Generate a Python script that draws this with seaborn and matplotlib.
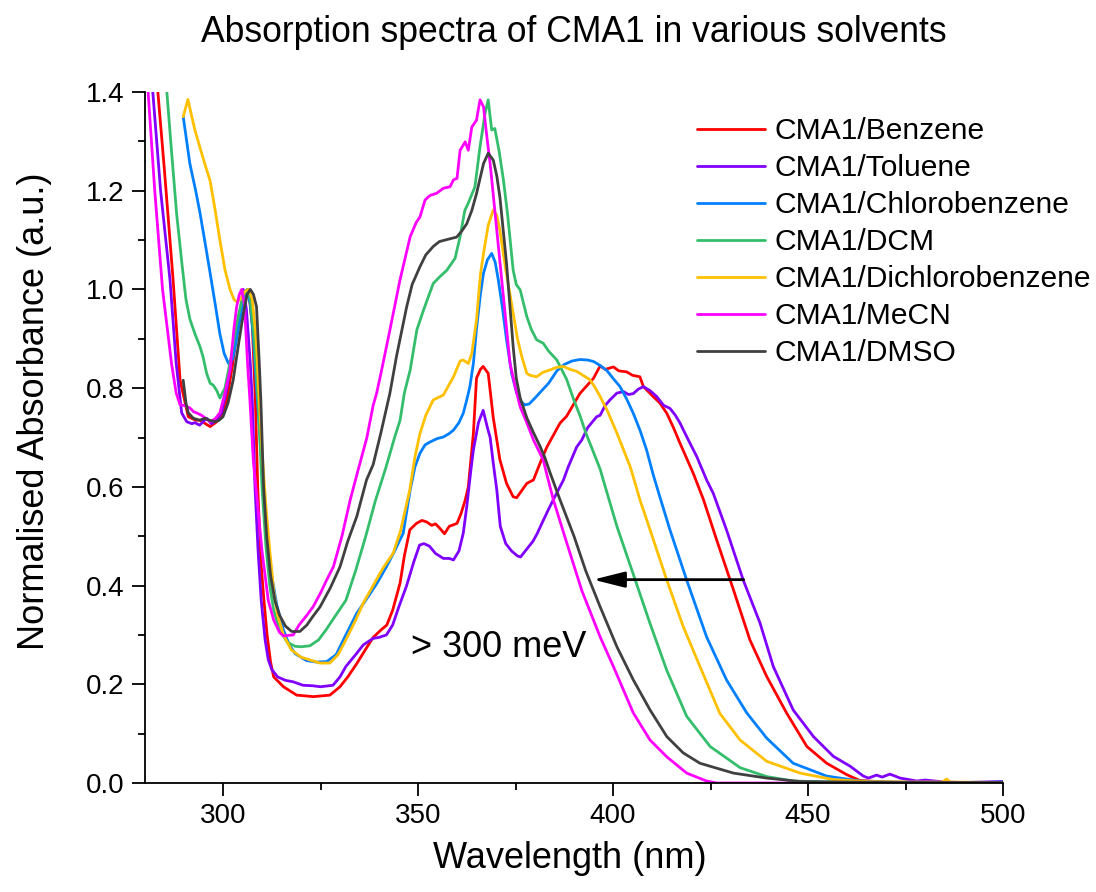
import numpy as np
import pandas as pd
import matplotlib
matplotlib.use("Agg")
import matplotlib.pyplot as plt
import seaborn as sns
from matplotlib.ticker import MultipleLocator, FormatStrFormatter

# Normalised absorption spectra, (wavelength nm, absorbance) pairs per solvent
benzene = [
    (280, 1.52), (283.3, 1.40), (285, 1.24), (287.2, 1.02), (289, 0.816), (291.1, 0.742),
    (293, 0.735), (294.1, 0.735), (296.7, 0.722), (298.4, 0.732), (300, 0.75), (301, 0.776),
    (302.5, 0.85), (303.5, 0.911), (305, 0.975), (306.5, 1.0), (307.5, 0.93), (308.3, 0.776),
    (308.9, 0.6), (309.7, 0.45), (310.5, 0.37), (311.3, 0.30), (312.2, 0.245), (313, 0.215),
    (315.5, 0.195), (318.9, 0.178), (323.2, 0.175), (327.4, 0.178), (330, 0.195), (332, 0.215),
    (334.3, 0.242), (336.5, 0.27), (338.5, 0.295), (340.5, 0.31), (342, 0.32), (343.5, 0.35),
    (345.4, 0.405), (346.5, 0.46), (347.9, 0.513), (349.6, 0.526), (351, 0.532), (352.2, 0.529),
    (353.5, 0.522), (354.5, 0.525), (355.6, 0.516), (356.8, 0.505), (358, 0.52), (360, 0.526),
    (361, 0.545), (362.1, 0.573), (362.9, 0.60), (364.2, 0.708), (365, 0.82), (366, 0.838),
    (366.7, 0.844), (368, 0.83), (369.3, 0.74), (371, 0.655), (372.7, 0.607), (374.4, 0.58),
    (375.3, 0.578), (377.9, 0.607), (379.6, 0.614), (381.3, 0.648), (383, 0.68), (386.4, 0.729),
    (388.1, 0.743), (391.5, 0.789), (392.4, 0.797), (395, 0.82), (396.7, 0.845), (398, 0.838),
    (400.1, 0.843), (401.5, 0.835), (403.5, 0.833), (405, 0.826), (406.9, 0.823), (407.8, 0.803),
    (410.3, 0.783), (412, 0.77), (413.8, 0.749), (415.5, 0.72), (417.2, 0.688), (420.6, 0.627),
    (423.2, 0.574), (426.6, 0.492), (430.9, 0.391), (435.1, 0.29), (439.4, 0.216), (444.5, 0.142),
    (449.7, 0.074), (454.8, 0.04), (459.9, 0.017), (463.3, 0.005), (470, 0.002), (480, 0.001),
    (490, 0.0), (500, 0.0),
]

toluene = [
    (280.5, 1.55), (282, 1.40), (284, 1.2), (286.4, 1.02), (288, 0.85), (289.4, 0.75),
    (290.7, 0.732), (292, 0.728), (292.8, 0.73), (294, 0.725), (295.8, 0.739), (297, 0.728),
    (297.9, 0.732), (299.6, 0.75), (301, 0.80), (302.5, 0.87), (304.4, 0.95), (305.2, 1.0),
    (306, 0.96), (307, 0.85), (307.5, 0.776), (308.2, 0.6), (309, 0.47), (309.8, 0.37),
    (310.8, 0.29), (311.6, 0.25), (312.5, 0.23), (314, 0.215), (316, 0.208), (318, 0.205),
    (320.5, 0.198), (323, 0.197), (325, 0.195), (328.2, 0.198), (330, 0.215), (331.5, 0.236),
    (334, 0.26), (336, 0.28), (338.5, 0.293), (340, 0.295), (341.9, 0.30), (343.5, 0.32),
    (345, 0.355), (347, 0.398), (349, 0.45), (350.4, 0.482), (351.5, 0.485), (352.9, 0.48),
    (354.5, 0.465), (356.5, 0.455), (358, 0.455), (359.1, 0.452), (360.5, 0.47), (361.6, 0.506),
    (362.5, 0.56), (363.5, 0.63), (364.2, 0.675), (365.5, 0.73), (366.7, 0.755), (367.8, 0.72),
    (368.5, 0.70), (369.3, 0.648), (370.2, 0.594), (371.1, 0.52), (372.5, 0.485), (374, 0.47),
    (375.5, 0.46), (376.3, 0.458), (378, 0.475), (379.5, 0.49), (380.6, 0.506), (382, 0.53),
    (383.5, 0.555), (384.7, 0.574), (387.3, 0.614), (388.5, 0.64), (390.7, 0.681), (392, 0.695),
    (393.5, 0.72), (395.8, 0.742), (396.7, 0.745), (398, 0.765), (399.2, 0.776), (401, 0.79),
    (402.7, 0.793), (404, 0.787), (405.2, 0.789), (406.5, 0.798), (407.8, 0.803), (409.5, 0.795),
    (411.2, 0.783), (413, 0.765), (414.6, 0.759), (416, 0.745), (417.2, 0.729), (419, 0.70),
    (421.5, 0.661), (424, 0.614), (425.7, 0.587), (429.1, 0.513), (433.4, 0.411), (437.7, 0.324),
    (441.1, 0.236), (446.2, 0.148), (451.4, 0.094), (456.5, 0.054), (460.8, 0.034), (464.2, 0.014),
    (465.5, 0.010), (467.6, 0.016), (469, 0.012), (471, 0.018), (473.6, 0.010), (477.9, 0.004),
    (480, 0.006), (485, 0.002), (490, 0.001), (500, 0.003),
]

chlorobenzene = [
    (289.8, 1.35), (291.5, 1.255), (293, 1.2), (294.1, 1.155), (295.5, 1.09), (296.7, 1.033),
    (298, 0.97), (299.2, 0.91), (300.3, 0.87), (301.4, 0.85), (302.5, 0.86), (303.5, 0.9),
    (304.8, 0.96), (306.2, 1.0), (307, 0.97), (307.8, 0.9), (308.6, 0.8), (309.5, 0.7),
    (310.5, 0.58), (311.5, 0.49), (312.5, 0.42), (313.8, 0.36), (315.5, 0.31), (317, 0.28),
    (318.5, 0.262), (321.4, 0.248), (324, 0.245), (326.6, 0.246), (329, 0.26), (330, 0.276),
    (331.5, 0.30), (334.3, 0.344), (337, 0.375), (339.5, 0.405), (341.9, 0.438), (344, 0.47),
    (346.2, 0.506), (348, 0.594), (349.2, 0.64), (350.5, 0.668), (351.8, 0.685), (353.1, 0.691),
    (355, 0.698), (356.5, 0.701), (358, 0.708), (359.1, 0.715), (360.5, 0.73), (361.6, 0.749),
    (362.5, 0.776), (363.3, 0.803), (364.2, 0.85), (365, 0.92), (366, 0.99), (366.8, 1.033),
    (367.8, 1.06), (368.9, 1.073), (369.8, 1.055), (370.6, 1.019), (371.7, 0.96), (372.7, 0.898),
    (374, 0.83), (375.3, 0.79), (376.5, 0.772), (377.4, 0.766), (378.5, 0.768), (380, 0.78),
    (381.5, 0.793), (383.5, 0.81), (385.6, 0.835), (387.5, 0.848), (389.5, 0.855), (391.5, 0.858),
    (393.5, 0.857), (395, 0.854), (396.7, 0.846), (398.4, 0.836), (400, 0.82), (401.8, 0.803),
    (403.5, 0.778), (405.2, 0.749), (407, 0.713), (408.6, 0.675), (410.3, 0.625), (412, 0.58),
    (414.6, 0.513), (418.9, 0.411), (424, 0.296), (429.1, 0.209), (434.3, 0.142), (439.4, 0.091),
    (446.2, 0.04), (454.8, 0.014), (463.3, 0.004), (470, 0.002), (480, 0.001), (490, 0.0),
    (500, 0.002),
]

dcm = [
    (280, 1.75), (285.6, 1.40), (286.8, 1.28), (288.1, 1.154), (289.5, 1.05), (290.5, 0.98),
    (291.5, 0.94), (292.8, 0.91), (294.1, 0.884), (294.9, 0.863), (295.8, 0.83), (296.7, 0.81),
    (297.5, 0.806), (298.4, 0.795), (299.2, 0.78), (300.5, 0.80), (302, 0.86), (303.5, 0.93),
    (305, 0.985), (306.2, 1.0), (307, 0.98), (308, 0.9), (309, 0.776), (310, 0.6), (311, 0.48),
    (312, 0.40), (313, 0.35), (314.5, 0.31), (316.5, 0.285), (318.5, 0.277), (320, 0.276),
    (322.3, 0.278), (324.5, 0.29), (326.4, 0.31), (328.5, 0.335), (331.5, 0.37), (334, 0.43),
    (336.6, 0.50), (339, 0.57), (341.8, 0.64), (344, 0.70), (345.4, 0.735), (346.5, 0.79),
    (348, 0.837), (349.7, 0.918), (351.5, 0.96), (353.9, 1.012), (355.5, 1.025), (357.4, 1.039),
    (359.5, 1.063), (360.8, 1.107), (362, 1.16), (362.9, 1.175), (364.6, 1.208), (365.9, 1.289),
    (367.2, 1.357), (368, 1.384), (368.9, 1.323), (369.7, 1.326), (370.8, 1.28), (371.9, 1.222),
    (373, 1.15), (374.4, 1.039), (375.2, 1.01), (376.2, 0.999), (377.9, 0.945), (379, 0.92),
    (380.4, 0.898), (382.1, 0.891), (383.5, 0.875), (385.6, 0.857), (388.1, 0.818), (390, 0.775),
    (391.5, 0.745), (393, 0.71), (394.1, 0.688), (396.7, 0.636), (397.5, 0.614), (401, 0.52),
    (405.2, 0.423), (409.5, 0.323), (413.8, 0.228), (418.9, 0.135), (424.9, 0.074), (432.6, 0.031),
    (439.4, 0.013), (446.2, 0.004), (455, 0.002), (470, 0.001), (500, 0.0),
]

dichlorobenzene = [
    (289.8, 1.35), (291, 1.385), (292, 1.35), (292.8, 1.323), (294, 1.29), (295.5, 1.25),
    (296.7, 1.22), (298, 1.16), (299.2, 1.10), (300.5, 1.04), (301.8, 1.0), (302.8, 0.98),
    (303.5, 0.975), (304.5, 0.98), (305.5, 0.995), (306.5, 1.0), (307.5, 0.98), (308.5, 0.9),
    (309.3, 0.776), (310.2, 0.65), (311, 0.56), (312, 0.47), (313, 0.39), (314, 0.34),
    (315.5, 0.30), (317.5, 0.27), (320, 0.255), (322, 0.25), (324.9, 0.243), (327.4, 0.243),
    (329.5, 0.26), (331.5, 0.29), (334, 0.33), (336, 0.365), (338.5, 0.40), (341, 0.435),
    (343.6, 0.465), (345.5, 0.51), (347.9, 0.594), (349.2, 0.66), (350.5, 0.708), (352, 0.745),
    (353.9, 0.776), (356.5, 0.786), (359.1, 0.823), (360.8, 0.855), (361.6, 0.857), (362.9, 0.85),
    (363.8, 0.87), (365, 0.938), (366, 1.03), (366.8, 1.073), (368, 1.13), (369.3, 1.161),
    (370.2, 1.15), (371, 1.12), (372.5, 1.04), (374.4, 0.952), (375.5, 0.9), (376.6, 0.864),
    (377.9, 0.83), (378.7, 0.826), (380.4, 0.823), (382, 0.832), (383.9, 0.837), (385.5, 0.842),
    (387.3, 0.844), (389, 0.838), (390.7, 0.834), (392.5, 0.825), (394.1, 0.817), (395.5, 0.80),
    (396.7, 0.783), (398.5, 0.755), (401, 0.709), (402.7, 0.675), (404.4, 0.641), (405.2, 0.62),
    (406.9, 0.574), (409.5, 0.513), (413.8, 0.411), (418, 0.317), (422.3, 0.236), (427.4, 0.141),
    (432.6, 0.087), (439.4, 0.044), (448, 0.02), (456.5, 0.007), (465, 0.003), (475, 0.002),
    (484.5, 0.002), (485.5, 0.008), (486.5, 0.002), (500, 0.001),
]

mecn = [
    (280, 1.45), (280.8, 1.40), (282.5, 1.2), (284.5, 1.0), (286.8, 0.85), (288, 0.79),
    (289, 0.766), (290, 0.765), (291.5, 0.76), (292.5, 0.752), (293.2, 0.75), (294.5, 0.745),
    (296.7, 0.732), (298, 0.738), (299.2, 0.75), (300.5, 0.79), (301.8, 0.837), (302.8, 0.92),
    (303.5, 0.965), (304.2, 0.99), (304.8, 1.0), (305.5, 0.97), (306.3, 0.85), (306.9, 0.776),
    (307.8, 0.65), (308.8, 0.57), (310, 0.47), (311.6, 0.37), (313, 0.33), (314.5, 0.305),
    (315.5, 0.298), (318, 0.30), (319.5, 0.32), (321.5, 0.34), (323.1, 0.357), (325, 0.385),
    (326.5, 0.41), (328.3, 0.438), (330.5, 0.50), (332.6, 0.573), (334.5, 0.63), (336.9, 0.70),
    (338.5, 0.765), (339.4, 0.79), (340.5, 0.83), (342.8, 0.918), (345.4, 1.02), (348, 1.107),
    (349.5, 1.135), (350.5, 1.147), (351.8, 1.181), (353, 1.19), (354.8, 1.195), (356.5, 1.205),
    (358.2, 1.208), (359.1, 1.222), (360, 1.225), (360.8, 1.282), (362.1, 1.299), (362.9, 1.282),
    (363.8, 1.329), (365, 1.343), (365.9, 1.384), (366.8, 1.37), (367.5, 1.32), (368.5, 1.255),
    (370.2, 1.12), (371.9, 0.985), (373.6, 0.85), (375, 0.8), (376.2, 0.762), (377.9, 0.73),
    (379.6, 0.695), (382.1, 0.655), (383.2, 0.62), (384.7, 0.574), (388, 0.49), (392, 0.39),
    (396.7, 0.296), (400.1, 0.236), (405.2, 0.142), (409.5, 0.087), (413.8, 0.053), (418.9, 0.02),
    (424, 0.004), (426.6, 0.0), (440, 0.0), (460, 0.0), (480, 0.0), (500, 0.0),
]

dmso = [
    (289.8, 0.816), (290.5, 0.77), (291.1, 0.75), (292.4, 0.739), (294, 0.735), (295.4, 0.739),
    (296.5, 0.735), (297.9, 0.732), (299, 0.735), (300, 0.742), (301.3, 0.77), (302.6, 0.816),
    (304, 0.89), (305.2, 0.95), (306.2, 0.99), (307, 1.0), (307.8, 0.99), (308.6, 0.965),
    (309.3, 0.85), (309.7, 0.776), (310.4, 0.6), (311.2, 0.5), (312.2, 0.42), (313.3, 0.37),
    (314.5, 0.34), (316, 0.318), (317.6, 0.307), (319.7, 0.307), (321.5, 0.32), (323, 0.337),
    (324.9, 0.357), (327.5, 0.395), (330, 0.438), (332, 0.49), (334.3, 0.54), (336.8, 0.614),
    (338.5, 0.645), (340.5, 0.71), (342.8, 0.79), (344.5, 0.865), (347.1, 0.965), (348.5, 1.01),
    (350.5, 1.046), (352, 1.07), (353.9, 1.087), (355.5, 1.097), (357.4, 1.101), (359.9, 1.106),
    (361.2, 1.118), (362.5, 1.133), (363.8, 1.16), (365, 1.194), (366.8, 1.255), (368, 1.276),
    (369.3, 1.262), (370.2, 1.23), (371, 1.187), (372.7, 1.053), (374.4, 0.884), (375.2, 0.82),
    (376.2, 0.78), (377.9, 0.74), (379.6, 0.71), (381.3, 0.682), (382.5, 0.66), (383.8, 0.63),
    (386.4, 0.574), (390, 0.50), (393, 0.43), (396.7, 0.357), (401, 0.276), (405.2, 0.209),
    (409.5, 0.148), (413.8, 0.094), (418, 0.061), (422.3, 0.04), (430.9, 0.02), (439.4, 0.01),
    (448, 0.003), (460, 0.002), (480, 0.001), (500, 0.001),
]

samples = ["CMA1/Benzene", "CMA1/Toluene", "CMA1/Chlorobenzene", "CMA1/DCM",
           "CMA1/Dichlorobenzene", "CMA1/MeCN", "CMA1/DMSO"]
spectra = [benzene, toluene, chlorobenzene, dcm, dichlorobenzene, mecn, dmso]
colors = ["#FF0000", "#8000FF", "#0080FF", "#34BE6C", "#FFC000", "#FF00FF", "#404040"]

x_ticks = [300, 350, 400, 450, 500]
y_ticks = [0.0, 0.2, 0.4, 0.6, 0.8, 1.0, 1.2, 1.4]

frames = []
for name, pts in zip(samples, spectra):
    arr = np.asarray(pts, dtype=float)
    frames.append(pd.DataFrame({"Wavelength (nm)": arr[:, 0],
                                "Normalised Absorbance (a.u.)": arr[:, 1],
                                "Sample": name}))
df = pd.concat(frames, ignore_index=True)

sns.set_theme(style="ticks")
plt.rcParams["font.family"] = ["Liberation Sans", "DejaVu Sans"]
plt.rcParams.update({
    "axes.linewidth": 1.3,
    "text.color": "black",
    "axes.labelcolor": "black",
    "xtick.color": "black",
    "ytick.color": "black",
    "axes.edgecolor": "black",
})

W, H = 1096, 892
fig = plt.figure(figsize=(W / 100, H / 100), dpi=100)
ax = fig.add_axes([145 / W, 1 - 783 / H, 858 / W, 691 / H])

sns.lineplot(data=df, x="Wavelength (nm)", y="Normalised Absorbance (a.u.)",
             hue="Sample", hue_order=samples, palette=colors,
             estimator=None, sort=True, linewidth=2.0, ax=ax)

ax.set_xlim(280, 500)
ax.set_ylim(0, 1.4)
ax.set_xticks(x_ticks)
ax.set_yticks(y_ticks)
ax.xaxis.set_minor_locator(MultipleLocator(25))
ax.yaxis.set_minor_locator(MultipleLocator(0.1))
ax.yaxis.set_major_formatter(FormatStrFormatter("%.1f"))

for side in ("top", "right"):
    ax.spines[side].set_visible(False)
for side in ("left", "bottom"):
    ax.spines[side].set_color("black")
    ax.spines[side].set_linewidth(1.3)

ax.tick_params(which="major", direction="out", length=9.6, width=1.3,
               labelsize=20, pad=5, colors="black")
ax.tick_params(which="minor", direction="out", length=4.8, width=1.3, colors="black")

ax.set_xlabel("Wavelength (nm)", fontsize=26, color="black")
ax.set_ylabel("Normalised Absorbance (a.u.)", fontsize=26, color="black")
ax.xaxis.set_label_coords(0.495, -0.084)
ax.yaxis.set_label_coords(-0.108, 0.538)

handles, labels = ax.get_legend_handles_labels()
leg = ax.legend(handles, labels, loc="upper left",
                bbox_to_anchor=(697 / W, 1 - 117 / H), bbox_transform=fig.transFigure,
                frameon=False, fontsize=21.6, handlelength=2.27, handletextpad=0.33,
                labelspacing=0.3, borderpad=0, borderaxespad=0)
for t in leg.get_texts():
    t.set_color("black")

# Solvatochromic shift indicator
ax.annotate("", xy=(394.9, 0.412), xytext=(433.5, 0.412),
            arrowprops=dict(arrowstyle="-|>,head_length=1.6,head_width=0.4",
                            color="black", lw=2, shrinkA=0, shrinkB=0))
ax.text(348.3, 0.256, "> 300 meV", fontsize=26, ha="left", va="baseline", color="black")

fig.text(574 / W, 1 - 42 / H, "Absorption spectra of CMA1 in various solvents",
         ha="center", va="baseline", fontsize=25.6, color="black")

fig.savefig("out.png", dpi=100)
